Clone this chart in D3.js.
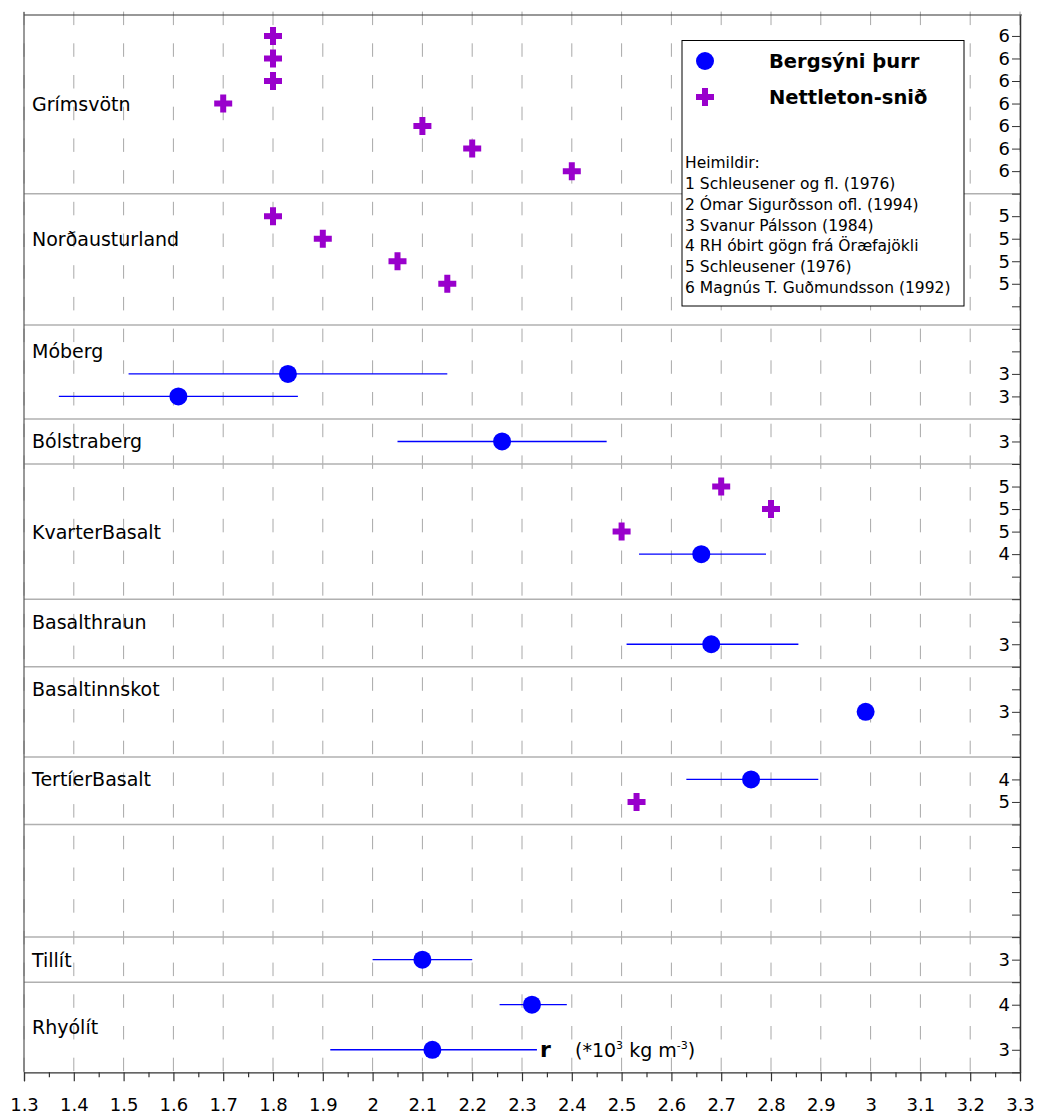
<!DOCTYPE html>
<html>
<head>
<meta charset="utf-8">
<script src="https://cdn.jsdelivr.net/npm/d3@7"></script>
<style>
  html, body { margin: 0; padding: 0; background: #fff; }
  svg { display: block; }
  text { font-family: "DejaVu Sans", Verdana, sans-serif; fill: #000; }
</style>
</head>
<body>
<svg id="chart" width="1037" height="1115"></svg>
<script>
// ---------- DATA ----------
const xTickLabels = ["1.3","1.4","1.5","1.6","1.7","1.8","1.9","2","2.1","2.2","2.3","2.4","2.5","2.6","2.7","2.8","2.9","3","3.1","3.2","3.3"];

// right axis source labels, one per row index 0..46
const sourceLabels = ["6","6","6","6","6","6","6","",
  "5","5","5","5","","","",
  "3","3","","3","",
  "5","5","5","4","","","",
  "3","","","3","","",
  "4","5","","","","","","",
  "3","","4","","3",""];

// category labels and the row they sit on
const categories = ["Grímsvötn","Norðausturland","Móberg","Bólstraberg","KvarterBasalt","Basalthraun","Basaltinnskot","TertíerBasalt","Tillít","Rhyólít"];
const categoryRows = [3, 9, 14, 18, 22, 26, 29, 33, 41, 44];

// group separator rows
const separatorRows = [7, 12.83, 17, 19, 25, 28, 32, 35, 40, 42];

// Nettleton-snið (crosses): density value and row
const nettletonValues = [1.80, 1.80, 1.80, 1.70, 2.10, 2.20, 2.40, 1.80, 1.90, 2.05, 2.15, 2.70, 2.80, 2.50, 2.53];
const nettletonRows   = [0, 1, 2, 3, 4, 5, 6, 8, 9, 10, 11, 20, 21, 22, 34];

// Bergsýni þurr (dots) with range
const sampleMean = [1.83, 1.61, 2.26, 2.66, 2.68, 2.99, 2.76, 2.10, 2.32, 2.12];
const sampleLow  = [1.51, 1.37, 2.05, 2.535, 2.51, 2.99, 2.63, 2.00, 2.255, 1.915];
const sampleHigh = [2.15, 1.85, 2.47, 2.79, 2.855, 2.99, 2.895, 2.20, 2.39, 2.33];
const sampleRows = [15, 16, 18, 23, 27, 30, 33, 41, 43, 45];

const legendSeries = ["Bergsýni þurr", "Nettleton-snið"];
const sourcesTitle = "Heimildir:";
const sources = ["1 Schleusener og fl. (1976)", "2 Ómar Sigurðsson ofl. (1994)", "3 Svanur Pálsson (1984)",
  "4 RH óbirt gögn frá Öræfajökli", "5 Schleusener (1976)", "6 Magnús T. Guðmundsson (1992)"];

// ---------- DRAW ----------
const svg = d3.select("#chart");
const pLeft = 24, pRight = 1020, pTop = 15, pBottom = 1072.3;
const blue = "#0000ff", purple = "#9900cc";

const xTicks = xTickLabels.map(Number);
const x = d3.scaleLinear().domain([1.3, 3.3]).range([pLeft, pRight]);
const y = d3.scaleLinear().domain([-0.93, 46]).range([pTop, pBottom]);

// vertical dashed grid
svg.append("g").selectAll("line").data(xTicks).join("line")
  .attr("x1", d => x(d)).attr("x2", d => x(d))
  .attr("y1", 11.6).attr("y2", pBottom)
  .attr("stroke", "#a8a8a8").attr("stroke-width", 1)
  .attr("stroke-dasharray", "13.5,18.2");

// separators
svg.append("g").selectAll("line").data(separatorRows).join("line")
  .attr("x1", pLeft).attr("x2", pRight)
  .attr("y1", d => y(d)).attr("y2", d => y(d))
  .attr("stroke", "#b0b0b0").attr("stroke-width", 1.5);

// frame lines
svg.append("line").attr("x1", pLeft).attr("x2", pRight + 2).attr("y1", pTop).attr("y2", pTop)
  .attr("stroke", "#333").attr("stroke-width", 1.2);
svg.append("line").attr("x1", pLeft).attr("x2", pLeft).attr("y1", pTop - 3).attr("y2", pBottom)
  .attr("stroke", "#555").attr("stroke-width", 1.2);

// bottom axis
const xAxis = d3.axisBottom(x).tickValues(xTicks).tickFormat((d, i) => xTickLabels[i]).tickSize(9).tickPadding(17);
const gx = svg.append("g").attr("transform", `translate(0,${pBottom})`).call(xAxis);
gx.select(".domain").attr("stroke", "#333").attr("stroke-width", 1.2);
gx.selectAll(".tick line").attr("stroke", "#333").attr("stroke-width", 1.2);
gx.selectAll(".tick text").attr("font-family", "DejaVu Sans").attr("font-size", 18).attr("fill", "#000");
const minorTicks = d3.range(0, 20).map(i => 1.35 + i * 0.1);
const xMinor = d3.axisBottom(x).tickValues(minorTicks).tickFormat("").tickSize(5);
const gxm = svg.append("g").attr("transform", `translate(0,${pBottom})`).call(xMinor);
gxm.select(".domain").remove();
gxm.selectAll(".tick line").attr("stroke", "#333").attr("stroke-width", 1.2);

// right axis
const rowIdx = d3.range(0, sourceLabels.length);
const yAxis = d3.axisLeft(y).tickValues(rowIdx).tickFormat(i => sourceLabels[i]).tickSize(8).tickSizeOuter(0).tickPadding(2);
const gy = svg.append("g").attr("transform", `translate(${pRight},0)`).call(yAxis);
gy.select(".domain").attr("stroke", "#333").attr("stroke-width", 1.5);
gy.selectAll(".tick line").attr("stroke", "#333").attr("stroke-width", 1);
gy.selectAll(".tick text").attr("font-family", "DejaVu Sans").attr("font-size", 18).attr("fill", "#000");

// category labels
svg.append("g").selectAll("text").data(categories).join("text")
  .attr("x", 32).attr("y", (d, i) => y(categoryRows[i]) + 7)
  .attr("font-size", 19).text(d => d);

// error bars
svg.append("g").selectAll("line").data(sampleMean).join("line")
  .attr("x1", (d, i) => x(sampleLow[i])).attr("x2", (d, i) => x(sampleHigh[i]))
  .attr("y1", (d, i) => y(sampleRows[i])).attr("y2", (d, i) => y(sampleRows[i]))
  .attr("stroke", blue).attr("stroke-width", 1.3);

// dots
svg.append("g").selectAll("circle").data(sampleMean).join("circle")
  .attr("cx", d => x(d)).attr("cy", (d, i) => y(sampleRows[i])).attr("r", 9)
  .attr("fill", blue);

// crosses
const cross = d3.symbol().type(d3.symbolCross).size(180);
svg.append("g").selectAll("path").data(nettletonValues).join("path")
  .attr("d", cross)
  .attr("transform", (d, i) => `translate(${x(d)},${y(nettletonRows[i])})`)
  .attr("fill", purple);

// unit label
const ut = svg.append("g");
ut.append("text").attr("x", 540).attr("y", 1057).attr("font-size", 22).attr("font-weight", "bold").text("r");
const u2 = ut.append("text").attr("x", 575).attr("y", 1057).attr("font-size", 19);
u2.append("tspan").text("(*10");
u2.append("tspan").attr("font-size", 11).attr("dy", -8).text("3");
u2.append("tspan").attr("dy", 8).text(" kg m");
u2.append("tspan").attr("font-size", 11).attr("dy", -8).text("-3");
u2.append("tspan").attr("dy", 8).text(")");

// legend
const lg = svg.append("g");
lg.append("rect").attr("x", 682).attr("y", 40.5).attr("width", 282).attr("height", 265.5)
  .attr("fill", "#fff").attr("stroke", "#000").attr("stroke-width", 1);
lg.append("circle").attr("cx", 705).attr("cy", 61).attr("r", 9).attr("fill", blue);
lg.append("path").attr("d", cross).attr("transform", "translate(705,97)").attr("fill", purple);
lg.selectAll("text.series").data(legendSeries).join("text").attr("class", "series")
  .attr("x", 769).attr("y", (d, i) => 68 + i * 35.5)
  .attr("font-size", 19.5).attr("font-weight", "bold").text(d => d);
lg.append("text").attr("x", 685).attr("y", 168).attr("font-size", 15.5).text(sourcesTitle);
lg.selectAll("text.src").data(sources).join("text").attr("class", "src")
  .attr("x", 685).attr("y", (d, i) => 189 + i * 20.8)
  .attr("font-size", 15.5).text(d => d);
</script>
</body>
</html>
